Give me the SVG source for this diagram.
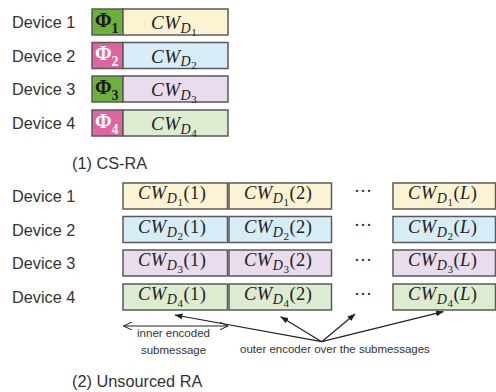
<svg xmlns="http://www.w3.org/2000/svg" width="496" height="392" viewBox="0 0 496 392">
  <defs>
    <style>
      .lbl { font-family: "Liberation Sans", Arial, sans-serif; font-size: 16.3px; fill: #333; }
      .cap { font-family: "Liberation Sans", Arial, sans-serif; font-size: 16.3px; fill: #333; }
      .small { font-family: "Liberation Sans", Arial, sans-serif; font-size: 11.5px; fill: #333; }
      .box { stroke: #5a5a5a; stroke-width: 1.5; }
      .y { fill: #fcf3d3; }
      .b { fill: #d6edf7; }
      .p { fill: #e8dced; }
      .g { fill: #ddebd1; }
      .phig { fill: #6cb13a; }
      .phip { fill: #e0649f; }
      .cw { font-family: "Liberation Serif", "Times New Roman", serif; font-style: italic; fill: #222; letter-spacing: 0.5px; }
      .cwt { font-size: 19px; }
      .cwb { font-size: 18.5px; }
      .up { font-style: normal; }
      .phi { font-family: "Liberation Serif", "Times New Roman", serif; font-weight: bold; font-size: 20px; }
      .dk { fill: #1a1a1a; }
      .wh { fill: #ffffff; }
      .dots { font-family: "Liberation Serif", serif; font-size: 18px; fill: #222; }
      .conn { stroke: #222; stroke-width: 1.2; fill: none; }
    </style>
    <marker id="tri" markerWidth="8" markerHeight="6" refX="7.5" refY="3" orient="auto" markerUnits="userSpaceOnUse">
      <path d="M0,0 L8,3 L0,6 Z" fill="#222"/>
    </marker>
    <marker id="open" markerWidth="9" markerHeight="8" refX="8.5" refY="4" orient="auto-start-reverse" markerUnits="userSpaceOnUse">
      <path d="M0,0 L8.5,4 L0,8" fill="none" stroke="#222" stroke-width="1"/>
    </marker>
  </defs>

  <!-- (1) CS-RA -->
  <g id="cs-device1">
    <text class="lbl" x="12" y="28">Device 1</text>
    <rect class="box phig" x="92" y="9" width="31" height="26"/>
    <rect class="box y" x="123" y="9" width="105" height="26"/>
    <text class="phi dk" x="95" y="26.5">Φ<tspan font-size="14" dy="6">1</tspan></text>
    <text class="cw cwt" x="151" y="29">CW<tspan font-size="14" dy="3.5">D</tspan><tspan class="up" font-size="11" dy="3">1</tspan></text>
  </g>
  <g id="cs-device2">
    <text class="lbl" x="12" y="61.5">Device 2</text>
    <rect class="box phip" x="92" y="42.5" width="31" height="26"/>
    <rect class="box b" x="123" y="42.5" width="105" height="26"/>
    <text class="phi wh" x="95" y="60" font-weight="normal">Φ<tspan font-size="14" dy="6">2</tspan></text>
    <text class="cw cwt" x="151" y="62.5">CW<tspan font-size="14" dy="3.5">D</tspan><tspan class="up" font-size="11" dy="3">2</tspan></text>
  </g>
  <g id="cs-device3">
    <text class="lbl" x="12" y="95">Device 3</text>
    <rect class="box phig" x="92" y="76" width="31" height="26"/>
    <rect class="box p" x="123" y="76" width="105" height="26"/>
    <text class="phi dk" x="95" y="93.5">Φ<tspan font-size="14" dy="6">3</tspan></text>
    <text class="cw cwt" x="151" y="96">CW<tspan font-size="14" dy="3.5">D</tspan><tspan class="up" font-size="11" dy="3">3</tspan></text>
  </g>
  <g id="cs-device4">
    <text class="lbl" x="12" y="129">Device 4</text>
    <rect class="box phip" x="92" y="110" width="31" height="26"/>
    <rect class="box g" x="123" y="110" width="105" height="26"/>
    <text class="phi wh" x="95" y="127.5" font-weight="normal">Φ<tspan font-size="14" dy="6">4</tspan></text>
    <text class="cw cwt" x="151" y="130">CW<tspan font-size="14" dy="3.5">D</tspan><tspan class="up" font-size="11" dy="3">4</tspan></text>
  </g>
  <text id="cap1" class="cap" x="72" y="169">(1) CS-RA</text>

  <!-- (2) Unsourced RA -->
  <g id="ura-device1">
    <text class="lbl" x="12" y="202">Device 1</text>
    <rect class="box y" x="123" y="183" width="104.5" height="26"/>
    <rect class="box y" x="229" y="183" width="102.5" height="26"/>
    <rect class="box y" x="393" y="183" width="102.5" height="26"/>
    <text class="cw cwb" x="138" y="199">CW<tspan font-size="14" dy="4">D</tspan><tspan class="up" font-size="11" dy="3">1</tspan><tspan class="up" dy="-7">(1)</tspan></text>
    <text class="cw cwb" x="244" y="199">CW<tspan font-size="14" dy="4">D</tspan><tspan class="up" font-size="11" dy="3">1</tspan><tspan class="up" dy="-7">(2)</tspan></text>
    <text class="dots" x="363" y="197" text-anchor="middle">···</text>
    <text class="cw cwb" x="408" y="199">CW<tspan font-size="14" dy="4">D</tspan><tspan class="up" font-size="11" dy="3">1</tspan><tspan class="up" dy="-7">(</tspan>L<tspan class="up">)</tspan></text>
  </g>
  <g id="ura-device2">
    <text class="lbl" x="12" y="235.5">Device 2</text>
    <rect class="box b" x="123" y="216.5" width="104.5" height="26"/>
    <rect class="box b" x="229" y="216.5" width="102.5" height="26"/>
    <rect class="box b" x="393" y="216.5" width="102.5" height="26"/>
    <text class="cw cwb" x="138" y="232.5">CW<tspan font-size="14" dy="4">D</tspan><tspan class="up" font-size="11" dy="3">2</tspan><tspan class="up" dy="-7">(1)</tspan></text>
    <text class="cw cwb" x="244" y="232.5">CW<tspan font-size="14" dy="4">D</tspan><tspan class="up" font-size="11" dy="3">2</tspan><tspan class="up" dy="-7">(2)</tspan></text>
    <text class="dots" x="363" y="230.5" text-anchor="middle">···</text>
    <text class="cw cwb" x="408" y="232.5">CW<tspan font-size="14" dy="4">D</tspan><tspan class="up" font-size="11" dy="3">2</tspan><tspan class="up" dy="-7">(</tspan>L<tspan class="up">)</tspan></text>
  </g>
  <g id="ura-device3">
    <text class="lbl" x="12" y="269">Device 3</text>
    <rect class="box p" x="123" y="250" width="104.5" height="26"/>
    <rect class="box p" x="229" y="250" width="102.5" height="26"/>
    <rect class="box p" x="393" y="250" width="102.5" height="26"/>
    <text class="cw cwb" x="138" y="266">CW<tspan font-size="14" dy="4">D</tspan><tspan class="up" font-size="11" dy="3">3</tspan><tspan class="up" dy="-7">(1)</tspan></text>
    <text class="cw cwb" x="244" y="266">CW<tspan font-size="14" dy="4">D</tspan><tspan class="up" font-size="11" dy="3">3</tspan><tspan class="up" dy="-7">(2)</tspan></text>
    <text class="dots" x="363" y="266" text-anchor="middle">···</text>
    <text class="cw cwb" x="408" y="266">CW<tspan font-size="14" dy="4">D</tspan><tspan class="up" font-size="11" dy="3">3</tspan><tspan class="up" dy="-7">(</tspan>L<tspan class="up">)</tspan></text>
  </g>
  <g id="ura-device4">
    <text class="lbl" x="12" y="303">Device 4</text>
    <rect class="box g" x="123" y="284" width="104.5" height="26"/>
    <rect class="box g" x="229" y="284" width="102.5" height="26"/>
    <rect class="box g" x="393" y="284" width="102.5" height="26"/>
    <text class="cw cwb" x="138" y="300">CW<tspan font-size="14" dy="4">D</tspan><tspan class="up" font-size="11" dy="3">4</tspan><tspan class="up" dy="-7">(1)</tspan></text>
    <text class="cw cwb" x="244" y="300">CW<tspan font-size="14" dy="4">D</tspan><tspan class="up" font-size="11" dy="3">4</tspan><tspan class="up" dy="-7">(2)</tspan></text>
    <text class="dots" x="363" y="300" text-anchor="middle">···</text>
    <text class="cw cwb" x="408" y="300">CW<tspan font-size="14" dy="4">D</tspan><tspan class="up" font-size="11" dy="3">4</tspan><tspan class="up" dy="-7">(</tspan>L<tspan class="up">)</tspan></text>
  </g>

  <g id="connectors">
    <line class="conn" x1="123.5" y1="326" x2="228" y2="326" marker-start="url(#open)" marker-end="url(#open)"/>
    <line class="conn" x1="321.7" y1="341.7" x2="175" y2="315" marker-end="url(#tri)"/>
    <line class="conn" x1="321.7" y1="341.7" x2="280.7" y2="316.7" marker-end="url(#tri)"/>
    <line class="conn" x1="321.7" y1="341.7" x2="355" y2="314" marker-end="url(#tri)"/>
    <line class="conn" x1="321.7" y1="341.7" x2="443.3" y2="311.7" marker-end="url(#tri)"/>
  </g>

  <g id="annotations">
    <text class="small" x="173.5" y="336.5" text-anchor="middle">inner encoded</text>
    <text class="small" x="173.5" y="354" text-anchor="middle">submessage</text>
    <text class="small" x="240" y="353">outer encoder over the submessages</text>
  </g>
  <text id="cap2" class="cap" x="72" y="387">(2) Unsourced RA</text>
</svg>
